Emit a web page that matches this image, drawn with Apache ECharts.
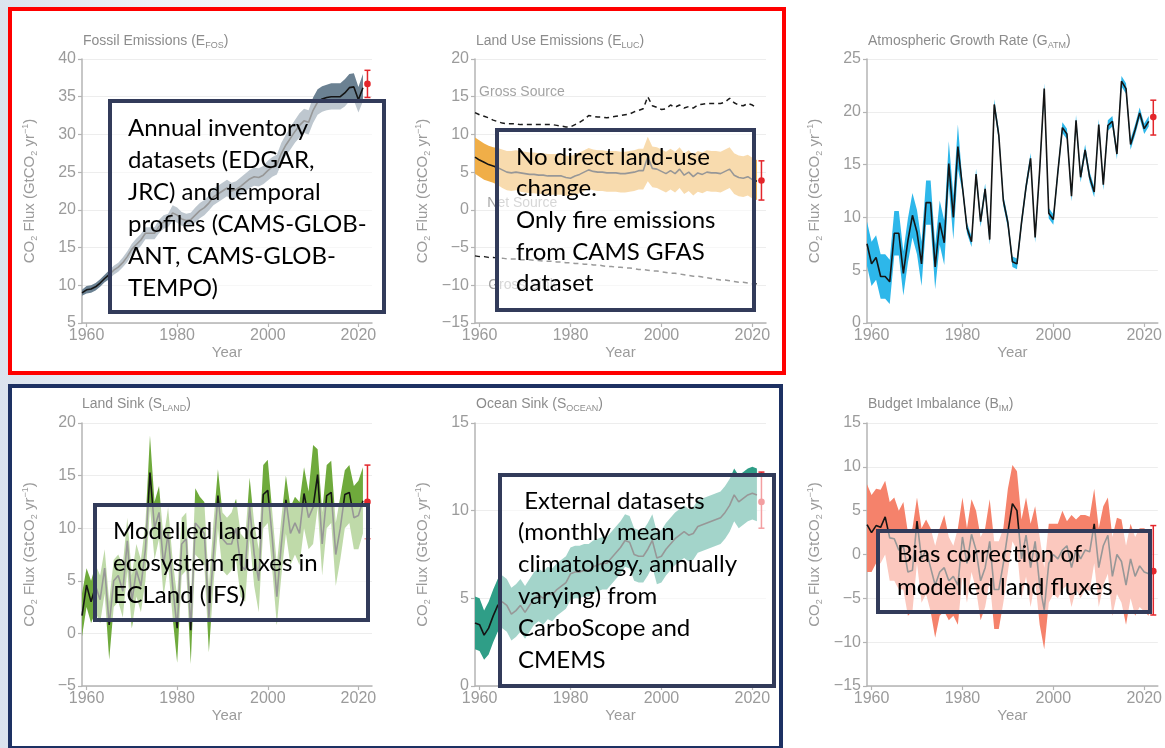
<!DOCTYPE html>
<html><head><meta charset="utf-8">
<script src="https://cdn.jsdelivr.net/npm/echarts@6/dist/echarts.min.js"></script>
<style>
html,body{margin:0;padding:0;}
body{width:1165px;height:748px;overflow:hidden;position:relative;background:linear-gradient(90deg,#dbe3ee 0px,#eef2f7 150px,#ffffff 430px);}
.frame{position:absolute;box-sizing:border-box;background:#fff;}
#red{left:8px;top:7px;width:778px;height:368px;border:4px solid #ff0000;}
#navy{left:8px;top:384px;width:775px;height:366px;border:4px solid #1d3163;}
#col3{left:790px;top:0;width:375px;height:748px;background:#fff;}
#c{position:absolute;left:0;top:0;width:1165px;height:748px;}
</style>
</head><body>
<div class="frame" id="col3"></div>
<div class="frame" id="red"></div>
<div class="frame" id="navy"></div>
<div id="c"></div>
<script>
// ---------------- data ----------------
const YEARS = Array.from({length:63},(_,i)=>1959+i); // 1959..2021
const X_TICKS = [1960,1980,2000,2020];

// Fossil emissions (GtCO2/yr)
const fosMean = [9.0,
 9.4,9.5,9.8,10.3,10.9,11.4,12.0,12.4,13.0,13.8,
 14.8,15.4,16.0,16.9,16.9,16.9,17.8,18.4,18.6,19.6,
 19.3,18.8,18.6,18.7,19.3,19.9,20.3,20.9,21.7,22.1,
 22.5,22.9,22.5,22.7,23.1,23.6,24.1,24.4,24.3,24.6,
 25.2,25.7,26.0,27.5,28.6,29.5,30.4,31.2,31.8,31.6,
 33.2,34.3,34.7,34.9,35.0,35.0,35.0,35.5,36.2,36.3,
 34.6,36.2];
const fosLow = [8.6,
 8.9,9.0,9.3,9.8,10.4,10.8,11.4,11.8,12.4,13.1,
 14.1,14.6,15.2,16.1,16.1,16.1,16.9,17.5,17.7,18.6,
 18.3,17.9,17.7,17.8,18.3,18.9,19.3,19.9,20.6,21.0,
 21.4,21.8,21.4,21.6,21.9,22.4,22.9,23.2,23.1,23.4,
 23.9,24.4,24.7,26.1,27.2,28.0,28.9,29.6,30.2,30.0,
 31.5,32.6,33.0,33.2,33.3,33.3,33.3,33.7,34.4,34.5,
 32.9,34.4];
const fosHigh = [9.4,
 9.9,10.0,10.3,10.8,11.4,12.0,12.6,13.0,13.7,14.5,
 15.5,16.2,16.8,17.7,17.7,17.7,18.7,19.3,19.5,20.6,
 20.3,19.7,19.5,19.6,20.3,20.9,21.3,21.9,22.8,23.2,
 23.6,24.0,23.6,23.8,24.3,24.8,25.3,25.6,25.5,25.8,
 26.5,27.0,27.3,28.9,30.0,31.0,31.9,32.8,33.4,33.2,
 34.9,36.0,36.4,36.6,36.8,36.8,36.8,37.3,38.0,38.1,
 36.3,38.0];
const fosProj = [2022, 34.9, 38.5, 36.7]; // year, low, high, value

// Land-use change emissions
const lucMean = [7.0,
 6.6,6.3,6.0,5.8,5.6,5.3,5.0,4.9,5.0,4.9,
 4.8,4.7,4.7,4.6,4.6,4.5,4.5,4.5,4.5,4.3,
 4.2,4.5,4.7,5.0,5.3,5.1,5.0,5.0,4.9,4.9,
 4.9,4.8,4.8,4.9,5.0,5.2,5.2,7.0,5.5,5.4,
 5.1,4.8,5.2,4.8,5.4,4.6,5.0,4.4,4.9,4.7,
 5.0,4.9,4.9,4.8,5.1,5.4,4.6,4.3,4.2,4.4,
 4.0,3.8];
const lucLow = [4.8,
 4.4,4.0,3.8,3.6,3.3,2.9,2.6,2.5,2.6,2.4,
 2.3,2.2,2.2,2.1,2.1,2.0,2.0,2.0,2.0,1.9,
 1.8,2.0,2.2,2.5,2.8,2.6,2.5,2.5,2.4,2.4,
 2.4,2.3,2.3,2.4,2.5,2.7,2.7,3.8,3.0,2.9,
 2.6,2.3,2.7,2.3,2.9,2.1,2.5,1.9,2.4,2.2,
 2.5,2.4,2.4,2.3,2.6,2.9,2.1,1.8,1.7,1.9,
 1.5,1.3];
const lucHigh = [9.6,
 9.2,8.8,8.5,8.3,8.2,8.0,7.8,7.8,7.9,7.8,
 7.7,7.6,7.6,7.5,7.5,7.4,7.4,7.4,7.4,7.2,
 7.1,7.4,7.6,7.9,8.2,8.0,7.9,7.9,7.8,7.8,
 7.8,7.7,7.7,7.8,7.9,8.1,8.1,9.7,8.4,8.3,
 8.0,7.7,8.1,7.7,8.3,7.5,7.9,7.3,7.8,7.6,
 7.9,7.8,7.8,7.7,8.0,8.3,7.5,7.2,7.1,7.3,
 6.9,6.6];
const lucGrossSource = [12.9,
 12.6,12.4,12.2,11.9,11.7,11.5,11.4,11.4,11.4,11.3,
 11.3,11.3,11.3,11.3,11.3,11.3,11.3,11.2,11.1,11.0,
 11.0,11.3,11.6,12.0,12.5,12.4,12.3,12.3,12.2,12.3,
 12.4,12.5,12.6,12.7,13.0,13.2,13.4,15.0,13.8,13.6,
 13.3,13.4,13.9,13.6,13.9,13.5,13.7,13.5,13.9,14.0,
 14.1,14.1,14.1,14.1,14.3,14.8,14.2,13.9,13.8,14.1,
 13.9,13.5];
const lucGrossSink = [-6.1,
 -6.2,-6.2,-6.3,-6.3,-6.4,-6.4,-6.5,-6.5,-6.5,-6.6,
 -6.6,-6.6,-6.7,-6.7,-6.8,-6.8,-6.8,-6.9,-6.9,-7.0,
 -7.0,-7.1,-7.1,-7.2,-7.2,-7.3,-7.3,-7.4,-7.5,-7.5,
 -7.6,-7.6,-7.7,-7.7,-7.8,-7.9,-7.9,-8.0,-8.1,-8.1,
 -8.2,-8.3,-8.4,-8.4,-8.5,-8.6,-8.7,-8.8,-8.8,-8.9,
 -9.0,-9.1,-9.2,-9.3,-9.3,-9.4,-9.5,-9.6,-9.6,-9.7,
 -9.8,-9.8];
const lucProj = [2022, 1.3, 6.5, 3.9];
const lucLabels = ['Gross Source','Net Source','Gross Sink'];

// Atmospheric growth rate
const atmMean = [7.5,
 5.6,6.2,4.4,4.4,3.9,8.5,8.5,4.7,7.8,10.2,
 8.6,5.6,11.4,11.4,5.3,9.5,7.6,15.1,10.0,16.7,
 12.9,9.0,7.7,14.1,9.6,12.7,7.9,20.7,17.8,11.6,
 9.5,5.8,5.6,9.5,12.9,15.6,8.1,14.5,22.2,10.4,
 9.8,14.3,18.5,17.9,12.0,19.2,13.8,16.4,13.8,12.4,
 18.8,13.1,18.7,19.1,16.0,22.9,22.2,16.9,18.3,19.9,
 18.4,19.1];
const atmLow = [5.4,
 3.5,4.1,2.3,2.3,1.8,6.4,6.4,2.6,5.7,8.1,
 6.5,3.5,9.3,9.3,3.2,7.4,5.5,13.0,7.9,14.6,
 12.4,8.5,7.2,13.6,9.1,12.2,7.4,20.2,17.3,11.1,
 9.0,5.3,5.1,9.0,12.4,15.1,7.6,14.0,21.7,9.9,
 9.3,13.8,18.0,17.4,11.5,18.7,13.3,15.9,13.3,11.9,
 18.3,12.6,18.2,18.6,15.5,22.4,21.7,16.4,17.8,19.4,
 17.9,18.6];
const atmHigh = [9.6,
 7.7,8.3,6.5,6.5,6.0,10.6,10.6,6.8,9.9,12.3,
 10.7,7.7,13.5,13.5,7.4,11.6,9.7,17.2,12.1,18.8,
 13.4,9.5,8.2,14.6,10.1,13.2,8.4,21.2,18.3,12.1,
 10.0,6.3,6.1,10.0,13.4,16.1,8.6,15.0,22.7,10.9,
 10.3,14.8,19.0,18.4,12.5,19.7,14.3,16.9,14.3,12.9,
 19.3,13.6,19.2,19.6,16.5,23.4,22.7,17.4,18.8,20.4,
 18.9,19.6];
const atmProj = [2022, 17.8, 21.1, 19.5];

// Land sink
const landMean = [1.7,
 4.6,3.0,4.5,3.2,6.2,0.8,5.0,5.5,4.0,8.8,
 3.0,6.0,4.5,8.0,15.3,10.0,11.5,6.5,9.5,4.5,
 0.5,8.5,9.0,0.3,10.5,10.0,9.5,1.5,7.5,13.1,
 9.0,8.5,8.5,10.0,6.5,6.0,12.0,7.5,5.0,13.2,
 13.6,9.0,3.5,8.5,12.7,9.5,10.5,9.5,13.3,11.0,
 12.0,15.1,8.5,13.1,13.4,7.5,10.0,13.2,13.4,11.0,
 11.2,12.6];
const landLow = [-0.3,
 2.5,1.0,2.0,1.0,3.8,-2.5,2.5,3.0,1.5,6.0,
 0.5,3.5,2.0,5.0,12.0,7.0,9.0,3.5,6.5,1.5,
 -2.8,5.5,6.0,-2.9,7.5,7.0,6.5,-1.8,4.5,10.0,
 6.0,5.5,6.0,7.0,3.5,3.0,9.0,4.5,2.0,10.0,
 10.5,6.0,0.8,5.5,9.5,6.5,7.5,6.5,10.0,8.0,
 8.5,12.0,5.5,10.0,10.5,4.5,7.0,10.0,10.5,8.0,
 8.0,9.5];
const landHigh = [3.8,
 6.2,5.0,6.5,5.5,8.0,3.0,7.0,7.5,6.5,11.0,
 5.5,8.5,7.0,10.5,18.8,12.5,14.0,9.0,12.0,7.0,
 3.5,11.0,11.5,3.0,13.8,13.0,12.5,4.5,10.5,15.6,
 11.5,11.0,11.5,12.8,9.5,9.0,14.8,10.5,8.0,16.0,
 16.5,11.5,6.5,11.0,15.0,12.0,13.0,12.5,15.8,13.5,
 17.9,17.5,11.5,16.0,16.4,10.5,13.0,15.5,16.0,14.0,
 14.5,15.8];
const landProj = [2022, 9.0, 16.0, 12.5];

// Ocean sink
const oceanMean = [3.6,
 3.5,2.9,3.3,4.0,4.6,4.8,4.6,4.1,4.3,4.6,
 4.2,4.6,5.0,5.2,5.0,5.3,5.2,5.5,5.7,5.9,
 6.4,6.5,6.5,6.6,6.6,6.8,6.9,7.0,7.0,7.3,
 7.6,7.9,8.3,8.2,7.5,7.4,7.4,7.8,8.3,7.3,
 7.4,7.8,8.1,8.4,8.6,8.8,8.6,8.7,9.1,9.2,
 9.3,9.4,9.5,9.6,9.9,10.3,10.9,10.5,10.7,10.9,
 11.0,10.9];
const oceanLow = [2.1,
 2.0,1.5,1.8,2.5,3.1,3.3,3.1,2.6,2.8,3.1,
 2.7,3.1,3.5,3.7,3.5,3.8,3.7,4.0,4.2,4.4,
 4.9,5.0,5.0,5.1,5.1,5.3,5.4,5.5,5.5,5.8,
 6.1,6.4,6.8,6.7,6.0,5.9,5.9,6.3,6.8,5.8,
 5.9,6.3,6.6,6.9,7.1,7.3,7.1,7.2,7.6,7.7,
 7.8,7.9,8.0,8.1,8.4,8.8,9.4,9.0,9.2,9.4,
 9.5,9.4];
const oceanHigh = [5.1,
 5.0,4.3,4.8,5.5,6.1,6.3,6.1,5.6,5.8,6.1,
 5.7,6.1,6.5,6.7,6.5,6.8,6.7,7.0,7.2,7.4,
 7.9,8.0,8.0,8.1,8.1,8.3,8.4,8.5,8.5,8.8,
 9.1,9.4,9.8,9.7,9.0,8.9,8.9,9.3,9.8,8.8,
 8.9,9.3,9.6,9.9,10.1,10.3,10.1,10.2,10.6,10.7,
 10.8,10.9,11.0,11.1,11.4,11.8,12.4,12.0,12.2,12.4,
 12.5,12.4];
const oceanProj = [2022, 9.0, 12.2, 10.5];

// Budget imbalance
const bimMean = [3.4,
 2.5,3.3,3.1,4.3,1.9,1.8,0.5,1.0,-2.0,-1.8,
 3.8,-0.5,0.5,-1.5,-3.5,-2.0,-1.5,-3.0,-2.5,-3.5,
 2.0,-1.0,2.3,0.5,-3.0,-1.5,1.5,-4.0,-4.0,-1.0,
 2.5,5.8,5.0,-0.5,2.2,-1.5,1.5,-3.5,-6.3,-1.0,
 0.0,-0.5,0.5,1.0,-1.5,0.5,-0.5,0.5,0.3,3.5,
 -1.5,1.0,2.2,-2.5,0.0,-0.8,-3.5,-0.5,-2.5,-1.3,
 -2.0,-2.2];
const bimLow = [-2.0,
 -2.0,-1.0,-1.0,0.0,-3.0,-3.0,-4.0,-4.0,-7.0,-6.5,
 -1.0,-5.5,-4.5,-6.5,-9.5,-7.0,-6.5,-7.5,-7.0,-8.0,
 -2.5,-5.5,-2.0,-4.0,-7.5,-6.0,-3.0,-8.5,-8.5,-5.5,
 -2.0,1.5,0.5,-5.0,-2.5,-6.0,-3.0,-8.0,-10.8,-5.5,
 -4.5,-5.0,-4.0,-3.5,-6.0,-4.0,-5.0,-4.0,-4.2,-1.0,
 -6.0,-3.5,-2.2,-7.0,-4.5,-5.5,-8.0,-5.0,-7.0,-6.0,
 -6.5,-7.0];
const bimHigh = [8.0,
 6.8,7.5,7.4,8.4,6.0,6.5,5.0,6.0,2.5,3.0,
 6.5,3.0,4.0,3.0,1.0,3.0,4.5,2.0,1.0,3.0,
 6.5,3.0,6.3,5.0,2.0,3.0,6.3,1.5,1.5,3.0,
 7.5,10.2,9.5,4.0,6.5,3.5,5.5,2.0,-1.5,3.5,
 3.5,3.5,5.0,3.8,4.5,4.0,4.5,4.5,4.3,7.5,
 3.0,5.5,6.5,2.0,4.2,4.0,1.0,3.5,2.0,3.0,
 3.0,2.5];
const bimProj = [2022, -6.9, 3.3, -1.9];

// ---------------- chart ----------------
const FONT = '"Liberation Sans", Arial, sans-serif';
const GRAY_T = '#8c8c8c';
const GRAY_L = '#9b9b9b';
const pairs = a => a.map((v,i)=>[YEARS[i], v]);
const numFmt = v => (v < 0 ? '\u2212' + Math.abs(v) : String(v));

const panels = [
  {title:'Fossil Emissions (E', sub:'FOS', g:{left:82,top:59,width:290,height:264}, tl:[83,33], y:[5,40], mean:fosMean, lo:fosLow, hi:fosHigh, color:'#6b8192', proj:fosProj},
  {title:'Land Use Emissions (E', sub:'LUC', g:{left:475,top:59,width:291,height:264}, tl:[476,33], y:[-15,20], mean:lucMean, lo:lucLow, hi:lucHigh, color:'#f0ae48', proj:lucProj},
  {title:'Atmospheric Growth Rate (G', sub:'ATM', g:{left:867,top:59,width:291,height:264}, tl:[868,33], y:[0,25], mean:atmMean, lo:atmLow, hi:atmHigh, color:'#2db7ea', proj:atmProj},
  {title:'Land Sink (S', sub:'LAND', g:{left:82,top:423,width:290,height:263}, tl:[82,396], y:[-5,20], mean:landMean, lo:landLow, hi:landHigh, color:'#6faa3c', proj:landProj},
  {title:'Ocean Sink (S', sub:'OCEAN', g:{left:475,top:423,width:291,height:263}, tl:[476,396], y:[0,15], mean:oceanMean, lo:oceanLow, hi:oceanHigh, color:'#2f9e87', proj:oceanProj},
  {title:'Budget Imbalance (B', sub:'IM', g:{left:867,top:423,width:291,height:263}, tl:[868,396], y:[-15,15], mean:bimMean, lo:bimLow, hi:bimHigh, color:'#f5826b', proj:bimProj}
];

const option = {
  animation:false,
  backgroundColor:'transparent',
  grid:[], xAxis:[], yAxis:[], title:[], series:[], graphic:[]
};

const errRender = (params, api) => {
  const x = api.value(0), lo = api.value(1), hi = api.value(2), m = api.value(3);
  const a = api.coord([x, lo]), b = api.coord([x, hi]), c = api.coord([x, m]);
  const st = {stroke:'#e3262b', lineWidth:1.5};
  return {type:'group', children:[
    {type:'line', shape:{x1:a[0],y1:a[1],x2:b[0],y2:b[1]}, style:st},
    {type:'line', shape:{x1:a[0]-3,y1:a[1],x2:a[0]+3,y2:a[1]}, style:st},
    {type:'line', shape:{x1:b[0]-3,y1:b[1],x2:b[0]+3,y2:b[1]}, style:st},
    {type:'circle', shape:{cx:c[0],cy:c[1],r:3.3}, style:{fill:'#e3262b'}}
  ]};
};

const bandRender = (lo, hi, color) => (params, api) => {
  if (params.dataIndex !== 0) return null;
  const pts = [];
  for (let k = 0; k < YEARS.length; k++) pts.push(api.coord([YEARS[k], hi[k]]));
  for (let k = YEARS.length - 1; k >= 0; k--) pts.push(api.coord([YEARS[k], lo[k]]));
  return {type:'polygon', shape:{points:pts}, style:{fill:color}};
};

panels.forEach((p,i)=>{
  option.grid.push(Object.assign({containLabel:false}, p.g));
  option.title.push({
    text:'{a|'+p.title+'}{s|'+p.sub+'}{a|)}',
    left:p.tl[0], top:p.tl[1], padding:0,
    textStyle:{fontWeight:'normal', rich:{
      a:{fontSize:14, color:GRAY_T, fontFamily:FONT, fontWeight:'normal', lineHeight:17},
      s:{fontSize:9, color:GRAY_T, fontFamily:FONT, fontWeight:'normal', lineHeight:9, verticalAlign:'bottom'}
    }}
  });
  option.xAxis.push({
    type:'value', gridIndex:i, min:1959, max:2023,
    name:'Year', nameLocation:'middle', nameGap:22,
    nameTextStyle:{fontSize:15, color:GRAY_L, fontFamily:FONT},
    axisLine:{show:true, onZero:false, lineStyle:{color:'#b4b4b4', width:1.5}},
    axisTick:{show:true, length:4, customValues:X_TICKS, lineStyle:{color:'#b4b4b4', width:1.2}},
    axisLabel:{customValues:X_TICKS, formatter:v=>String(v), fontSize:16, color:GRAY_L, fontFamily:FONT, margin:5},
    splitLine:{show:false}
  });
  option.yAxis.push({
    type:'value', gridIndex:i, min:p.y[0], max:p.y[1], interval:5,
    name:'{a|CO}{s|2}{a| Flux (GtCO}{s|2}{a| yr}{p|\u22121}{a|)}',
    nameLocation:'middle', nameGap:43,
    nameTextStyle:{rich:{
      a:{fontSize:15, color:GRAY_L, fontFamily:FONT, lineHeight:18},
      s:{fontSize:9, color:GRAY_L, fontFamily:FONT, lineHeight:9, verticalAlign:'bottom'},
      p:{fontSize:9, color:GRAY_L, fontFamily:FONT, lineHeight:9, verticalAlign:'top'}
    }},
    axisLine:{show:true, lineStyle:{color:'#b4b4b4', width:1.5}},
    axisTick:{show:true, length:4, lineStyle:{color:'#b4b4b4', width:1.2}},
    axisLabel:{formatter:numFmt, fontSize:16, color:GRAY_L, fontFamily:FONT, margin:6},
    splitLine:{show:true, lineStyle:{color:'#ededed', width:1}}
  });
  option.series.push({
    type:'custom', xAxisIndex:i, yAxisIndex:i, silent:true, z:1, clip:true,
    data:YEARS.map((y,k)=>[y, p.lo[k], p.hi[k]]), encode:{x:0, y:[1,2]},
    renderItem:bandRender(p.lo, p.hi, p.color)
  });
  option.series.push({
    type:'line', xAxisIndex:i, yAxisIndex:i, data:pairs(p.mean), symbol:'none',
    lineStyle:{color:'#141414', width:1.6}, z:3
  });
  option.series.push({
    type:'custom', xAxisIndex:i, yAxisIndex:i, data:[p.proj],
    encode:{x:0, y:[1,2,3]}, renderItem:errRender, z:4
  });
});

// gross source / sink for land-use panel
option.series.push({
  type:'line', xAxisIndex:1, yAxisIndex:1, data:pairs(lucGrossSource), symbol:'none',
  lineStyle:{color:'#1a1a1a', width:1.5, type:[5,4]}, z:3
});
option.series.push({
  type:'line', xAxisIndex:1, yAxisIndex:1, data:pairs(lucGrossSink), symbol:'none',
  lineStyle:{color:'#1a1a1a', width:1.5, type:[5,4]}, z:3
});
option.series.push({
  type:'scatter', xAxisIndex:1, yAxisIndex:1, symbolSize:0, silent:true, z:3,
  data:[[1959.9,15.6,lucLabels[0]],[1961.7,0.9,lucLabels[1]],[1961.9,-10.0,lucLabels[2]]],
  label:{show:true, position:'right', distance:0, formatter:q=>q.data[2],
         fontSize:14, color:GRAY_T, fontFamily:FONT}
});

// annotation boxes (semi-transparent white with dark border)
const BOX_FONT = '24px Lato, "Open Sans", sans-serif';
const boxes = [
  {r:[110,101,274,211], t:[128,112], lh:32, text:'Annual inventory\ndatasets (EDGAR,\nJRC) and temporal\nprofiles (CAMS-GLOB-\nANT, CAMS-GLOB-\nTEMPO)'},
  {r:[497,130,257,180], t:[516,141], lh:31.7, text:'No direct land-use\nchange.\nOnly fire emissions\nfrom CAMS GFAS\ndataset'},
  {r:[95,505,273,115], t:[113,515], lh:32, text:'Modelled land\necosystem fluxes in\nECLand (IFS)'},
  {r:[500,475,274,211], t:[518,485], lh:31.8, text:' External datasets\n(monthly mean\nclimatology, annually\nvarying) from\nCarboScope and\nCMEMS'},
  {r:[878,531,272,81], t:[897,538], lh:33, text:'Bias correction of\nmodelled land fluxes'}
];
boxes.forEach(b=>{
  option.graphic.push({
    type:'rect', z:100, silent:true,
    shape:{x:b.r[0], y:b.r[1], width:b.r[2], height:b.r[3]},
    style:{fill:'rgba(255,255,255,0.56)', stroke:'#323b5a', lineWidth:4}
  });
  option.graphic.push({
    type:'text', z:101, silent:true, x:b.t[0], y:b.t[1],
    style:{text:b.text, font:BOX_FONT, fill:'#000', lineHeight:b.lh,
           align:'left', verticalAlign:'top', textAlign:'left', textVerticalAlign:'top'}
  });
});

const chart = echarts.init(document.getElementById('c'), null, {renderer:'canvas'});
chart.setOption(option);
</script>
</body></html>
